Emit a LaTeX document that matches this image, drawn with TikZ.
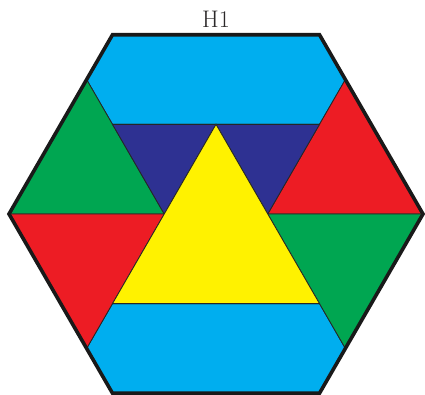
\documentclass[tikz,border=0pt]{standalone}
\usepackage{xcolor}
\definecolor{pcyan}{HTML}{00AEEF}
\definecolor{pgreen}{HTML}{00A651}
\definecolor{pred}{HTML}{ED1C24}
\definecolor{pblue}{HTML}{2E3192}
\definecolor{pyellow}{HTML}{FFF200}
\definecolor{labelgray}{HTML}{2B2829}
\begin{document}
\begin{tikzpicture}[x=51.75pt,y=51.75pt,
  tile/.style={draw=black!85,line width=0.8pt,line join=miter},
  rim/.style={draw=black!90,line width=3.6pt,line join=miter},
  lbl/.style={font=\fontsize{24}{28}\selectfont,text=labelgray,inner sep=0pt}]
\useasboundingbox (-216pt,-181pt) rectangle (209pt,214pt);
\def\r{1.7320508}
% lattice points
\coordinate (TL) at (-2,{2*\r});
\coordinate (TR) at (2,{2*\r});
\coordinate (L) at (-4,0);
\coordinate (R) at (4,0);
\coordinate (BL) at (-2,{-2*\r});
\coordinate (BR) at (2,{-2*\r});
\coordinate (qUL) at (-2.5,{1.5*\r});
\coordinate (qUR) at (2.5,{1.5*\r});
\coordinate (qLL) at (-2.5,{-1.5*\r});
\coordinate (qLR) at (2.5,{-1.5*\r});
\coordinate (mUL) at (-2,\r);
\coordinate (mUC) at (0,\r);
\coordinate (mUR) at (2,\r);
\coordinate (mLL) at (-2,-\r);
\coordinate (mLR) at (2,-\r);
\coordinate (cL) at (-1,0);
\coordinate (cR) at (1,0);
% tiles
\filldraw[tile,fill=pcyan] (TL) -- (TR) -- (qUR) -- (mUR) -- (mUL) -- (qUL) -- cycle;
\filldraw[tile,fill=pcyan] (mLL) -- (mLR) -- (qLR) -- (BR) -- (BL) -- (qLL) -- cycle;
\filldraw[tile,fill=pgreen] (qUL) -- (cL) -- (L) -- cycle;
\filldraw[tile,fill=pred] (L) -- (cL) -- (qLL) -- cycle;
\filldraw[tile,fill=pred] (qUR) -- (R) -- (cR) -- cycle;
\filldraw[tile,fill=pgreen] (cR) -- (R) -- (qLR) -- cycle;
\filldraw[tile,fill=pblue] (mUL) -- (mUC) -- (cL) -- cycle;
\filldraw[tile,fill=pblue] (mUC) -- (mUR) -- (cR) -- cycle;
\filldraw[tile,fill=pyellow] (mUC) -- (mLR) -- (mLL) -- cycle;
% outer rim
\draw[rim] (TL) -- (TR) -- (R) -- (BR) -- (BL) -- (L) -- cycle;
% label
\node[lbl] (h1) at (0pt,195pt) {H1};
\end{tikzpicture}
\end{document}
